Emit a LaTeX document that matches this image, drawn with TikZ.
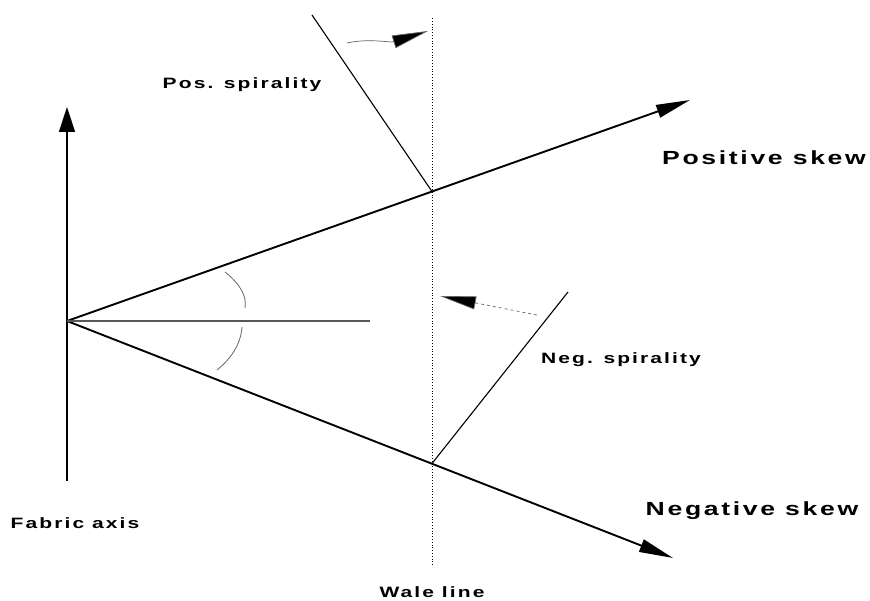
\documentclass[tikz,border=0pt]{standalone}
\usepackage{fontspec}
\newfontfamily\lblfont[FakeStretch=1.4,LetterSpace=14]{Liberation Sans Bold}
\usetikzlibrary{arrows.meta}
\tikzset{
  skew/.style={line width=1.9pt,-{Triangle[length=34pt,width=13pt]}},
  axisline/.style={line width=1.4pt,-{Triangle[length=25pt,width=16pt]}},
  thinline/.style={line width=1.1pt},
  spiral/.style={line width=0.7pt,gray!80!black,-{Triangle[length=36pt,width=13pt,fill=black]}},
  wale/.style={line width=0.8pt,dotted},
  anglearc/.style={line width=0.8pt,gray!80!black},
  small/.style={font=\lblfont\fontsize{15}{17}\selectfont},
  big/.style={font=\lblfont\fontsize{19}{22}\selectfont},
}
\begin{document}
\begin{tikzpicture}[x=1pt,y=1pt]
\useasboundingbox (0,0) rectangle (870,601);
\coordinate (O) at (67,280);
\coordinate (FAtop) at (67,494);
\coordinate (FAbot) at (67,120);
\coordinate (PStip) at (690,501);
\coordinate (NStip) at (673,43);
\coordinate (Hend) at (370,280);
\coordinate (Wtop) at (432,583);
\coordinate (Wbot) at (432,36);
\coordinate (P) at (432,409.5);
\coordinate (N) at (432,137.5);
\coordinate (PSPtop) at (312,586);
\coordinate (NSPtop) at (568,309);
\coordinate (PA1) at (347,558);
\coordinate (PA2) at (428,570);
\coordinate (NA1) at (537,286);
\coordinate (NA2) at (440,305);

\draw[axisline] (FAbot) -- (FAtop);
\draw[skew] (O) -- (PStip);
\draw[skew] (O) -- (NStip);
\draw[thinline,gray!70!black] (O) -- (Hend);
\draw[wale] (Wbot) -- (Wtop);
\draw[thinline] (PSPtop) -- (P);
\draw[thinline] (NSPtop) -- (N);
\draw[spiral] (PA1) .. controls (370,563) and (390,558) .. (PA2);
\draw[spiral,dashed] (NA1) -- (NA2);
\draw[anglearc] (225,329) .. controls (240,317) and (247,305) .. (245,293);
\draw[anglearc] (242,274) .. controls (241,258) and (232,243) .. (217,231);

\node[small] (lps) at (242,516) {Pos. spirality};
\node[big] (lpk) at (764,443) {Positive skew};
\node[big] (lnk) at (752,90) {Negative skew};
\node[small] (lns) at (621,241) {Neg. spirality};
\node[small] (lfa) at (75,78) {Fabric axis};
\node[small] (lwl) at (432,9) {Wale line};
\end{tikzpicture}
\end{document}
